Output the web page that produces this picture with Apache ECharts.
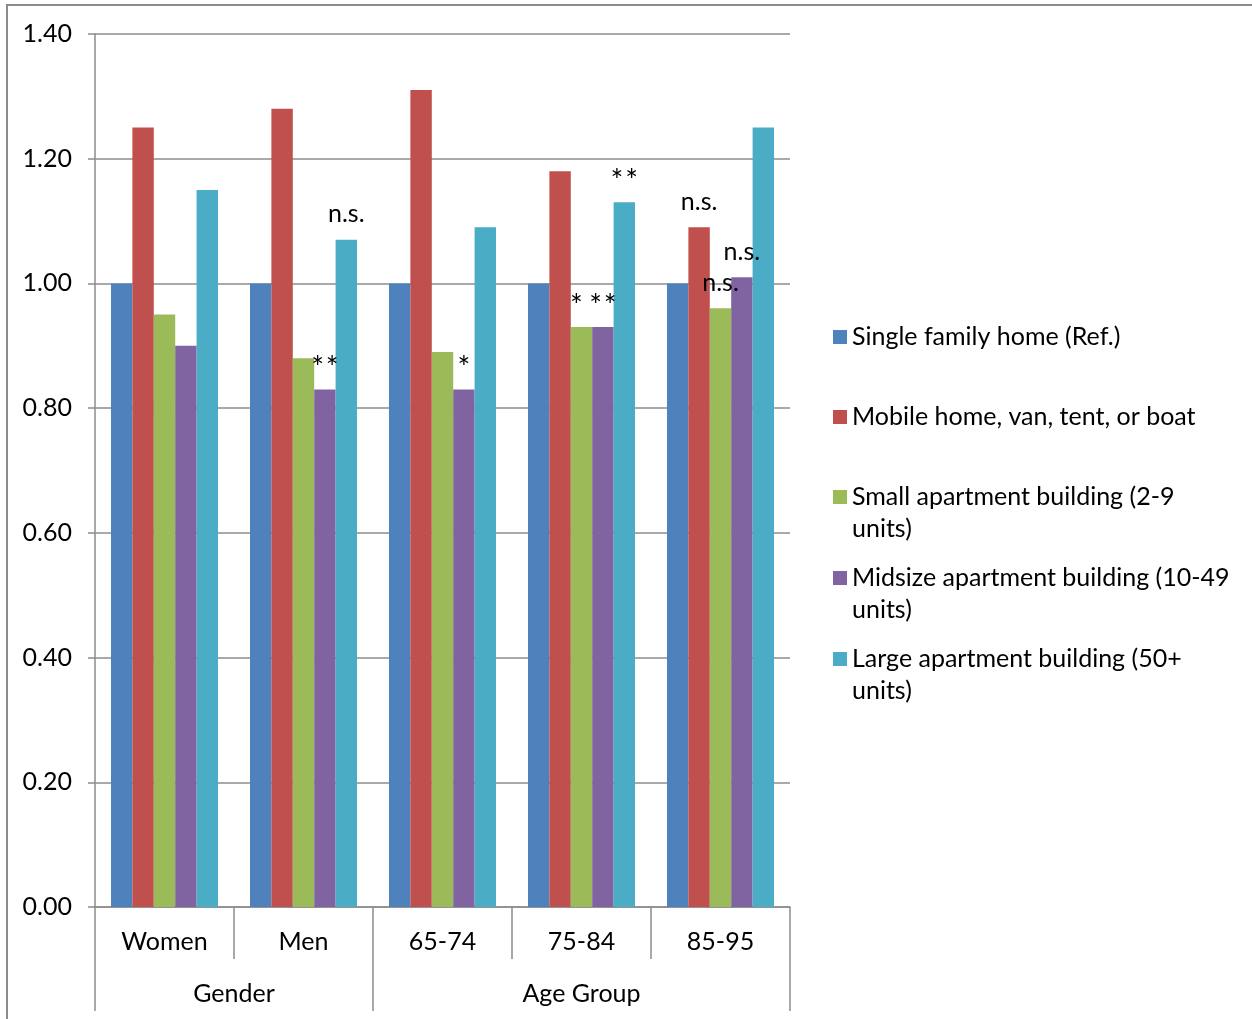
<!DOCTYPE html>
<html>
<head>
<meta charset="utf-8">
<script src="https://cdn.jsdelivr.net/npm/echarts@6/dist/echarts.min.js"></script>
<style>
  html, body { margin: 0; padding: 0; background: #fff; }
  #chart { width: 1252px; height: 1019px; }
</style>
</head>
<body>
<div id="chart"></div>
<script>
// categories on the axis and the groups under them
const categories = ['Women', 'Men', '65-74', '75-84', '85-95'];
const groups = ['Gender', 'Age Group'];
const groupSizes = [2, 3];

const seriesNames = [
  'Single family home (Ref.)',
  'Mobile home, van, tent, or boat',
  'Small apartment building (2-9 units)',
  'Midsize apartment building (10-49 units)',
  'Large apartment building (50+ units)'
];
const colors = ['#4F81BD', '#C0504D', '#9BBB59', '#8064A2', '#4BACC6'];

// odds ratios
const singleFamily = [1.00, 1.00, 1.00, 1.00, 1.00];
const mobileHome = [1.25, 1.28, 1.31, 1.18, 1.09];
const smallApt = [0.95, 0.88, 0.89, 0.93, 0.96];
const midsizeApt = [0.90, 0.83, 0.83, 0.93, 1.01];
const largeApt = [1.15, 1.07, 1.09, 1.13, 1.25];

// significance marks above the bars
const sigSingle = ['', '', '', '', ''];
const sigMobile = ['', '', '', '', 'n.s.'];
const sigSmall = ['', '', '', '*', 'n.s.'];
const sigMidsize = ['', '**', '*', '**', 'n.s.'];
const sigLarge = ['', 'n.s.', '', '**', ''];

const values = [singleFamily, mobileHome, smallApt, midsizeApt, largeApt];
const sigs = [sigSingle, sigMobile, sigSmall, sigMidsize, sigLarge];

const FONT = 'Lato';
const FS = 25;
const GRAY = '#8c8c8c';

// group boundaries / centres along the 0..5 category span
let groupEdges = [0];
let groupCenters = [];
groupSizes.forEach(function (n) {
  const start = groupEdges[groupEdges.length - 1];
  groupCenters.push(start + n / 2);
  groupEdges.push(start + n);
});

const chart = echarts.init(document.getElementById('chart'));

const series = seriesNames.map(function (name, i) {
  return {
    name: name,
    type: 'bar',
    barGap: '0%',
    barCategoryGap: '23%',
    itemStyle: { color: colors[i] },
    data: values[i].map(function (v, j) {
      const mark = sigs[i][j];
      const star = mark.indexOf('*') >= 0;
      return {
        value: v,
        label: {
          show: mark !== '',
          position: 'top',
          distance: star ? 6 : 13,
          // the small-apartment star sits a bit left in the original
          offset: (star && i === 2) ? [-5, 0] : [0, 0],
          formatter: star ? mark.split('').join('\u200A') : mark,
          color: '#000',
          fontFamily: FONT,
          fontSize: star ? 30 : FS
        }
      };
    })
  };
});

// one legend per entry so the spacing follows the original layout
const legendTops = [321, 401, 449, 530, 611];
const legends = seriesNames.map(function (name, i) {
  return {
    orient: 'vertical',
    left: 833,
    top: legendTops[i],
    padding: 0,
    itemWidth: 14,
    itemHeight: 14,
    icon: 'rect',
    selectedMode: false,
    data: [name],
    // blank first line keeps the marker beside the first text line
    formatter: function (n) {
      return n.indexOf(' units)') >= 0 ? '\n' + n.replace(' units)', '\nunits)') : n;
    },
    textStyle: {
      fontFamily: FONT,
      fontSize: FS,
      lineHeight: 32,
      color: '#000'
    }
  };
});

chart.setOption({
  animation: false,
  backgroundColor: '#fff',
  color: colors,
  legend: legends,
  grid: { left: 95, right: 462, top: 34, bottom: 112 },
  xAxis: [
    {
      type: 'category',
      data: categories,
      axisLine: { lineStyle: { color: GRAY, width: 1.5 } },
      axisTick: { show: true, interval: 0, length: 52, lineStyle: { color: GRAY, width: 1.5 } },
      axisLabel: { interval: 0, margin: 22, color: '#000', fontFamily: FONT, fontSize: FS }
    },
    {
      type: 'value',
      position: 'bottom',
      offset: 52,
      min: 0,
      max: 5,
      axisLine: { show: false },
      splitLine: { show: false },
      axisTick: { show: true, customValues: groupEdges, length: 52, lineStyle: { color: GRAY, width: 1.5 } },
      axisLabel: {
        customValues: groupCenters,
        margin: 22,
        color: '#000',
        fontFamily: FONT,
        fontSize: FS,
        formatter: function (v) { return groups[groupCenters.indexOf(v)]; }
      }
    }
  ],
  yAxis: {
    type: 'value',
    min: 0,
    max: 1.4,
    interval: 0.2,
    axisLine: { show: true, lineStyle: { color: GRAY, width: 1.5 } },
    axisTick: { show: true, length: 7, lineStyle: { color: GRAY, width: 1.5 } },
    splitLine: { lineStyle: { color: GRAY, width: 1.5 } },
    axisLabel: {
      margin: 23,
      color: '#000',
      fontFamily: FONT,
      fontSize: FS,
      formatter: function (v) { return v.toFixed(2); }
    }
  },
  graphic: [{
    type: 'rect',
    silent: true,
    shape: { x: 7, y: 5, width: 1270, height: 1040 },
    style: { fill: null, stroke: GRAY, lineWidth: 2 }
  }],
  series: series
});
</script>
</body>
</html>
